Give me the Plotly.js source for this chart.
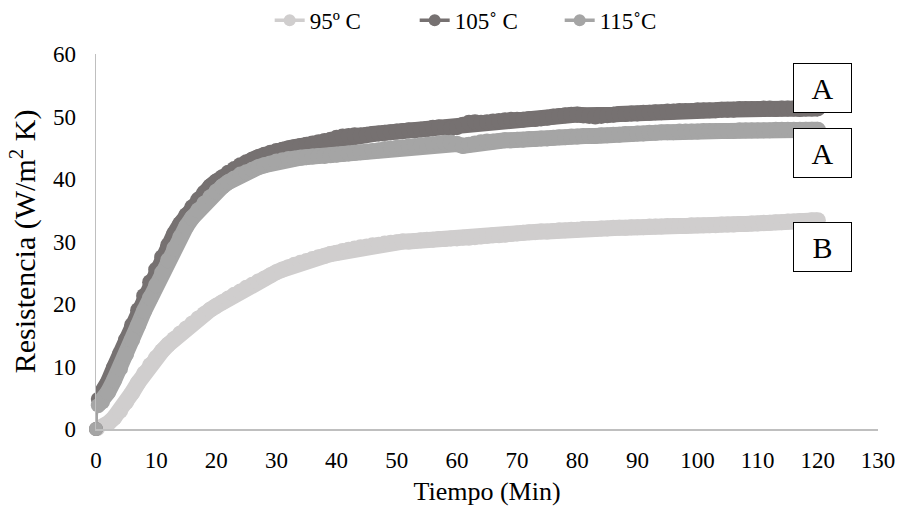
<!DOCTYPE html>
<html>
<head>
<meta charset="utf-8">
<script src="https://cdn.plot.ly/plotly-3.0.1.min.js"></script>
<style>html,body{margin:0;padding:0;background:#fff;}#chart{width:905px;height:509px;}</style>
</head>
<body>
<div id="chart"></div>
<script>
// Time (min)
var tiempo = [0, 0.3, 1, 2, 3, 4, 5, 6, 7, 8, 9, 10,
  11, 12, 13, 14, 15, 16, 17, 18, 19, 20,
  21, 22, 23, 24, 25, 26, 27, 28, 29, 30,
  31, 32, 33, 34, 35, 36, 37, 38, 39, 40,
  41, 42, 43, 44, 45, 46, 47, 48, 49, 50,
  51, 52, 53, 54, 55, 56, 57, 58, 59, 60,
  61, 62, 63, 64, 65, 66, 67, 68, 69, 70,
  71, 72, 73, 74, 75, 76, 77, 78, 79, 80,
  81, 82, 83, 84, 85, 86, 87, 88, 89, 90,
  91, 92, 93, 94, 95, 96, 97, 98, 99, 100,
  101, 102, 103, 104, 105, 106, 107, 108, 109, 110,
  111, 112, 113, 114, 115, 116, 117, 118, 119, 120];

// 95 ºC
var serie95 = [0, 0, 0.2, 0.9, 1.8, 2.9, 4.3, 5.8, 7.4, 8.9, 10.2, 11.4,
  12.5, 13.5, 14.4, 15.3, 16.1, 16.9, 17.7, 18.4, 19.1, 19.7,
  20.3, 20.9, 21.5, 22.0, 22.6, 23.1, 23.6, 24.1, 24.6, 25.1,
  25.5, 25.9, 26.3, 26.6, 26.9, 27.2, 27.5, 27.7, 28.0, 28.2,
  28.5, 28.7, 28.9, 29.1, 29.2, 29.4, 29.5, 29.7, 29.8, 29.9,
  30.0, 30.0, 30.1, 30.2, 30.3, 30.3, 30.4, 30.4, 30.5, 30.5,
  30.6, 30.6, 30.7, 30.8, 30.9, 31.0, 31.0, 31.1, 31.2, 31.3,
  31.4, 31.5, 31.5, 31.6, 31.6, 31.7, 31.8, 31.8, 31.9, 31.9,
  32.0, 32.0, 32.0, 32.1, 32.1, 32.2, 32.2, 32.2, 32.3, 32.3,
  32.3, 32.4, 32.4, 32.4, 32.5, 32.5, 32.5, 32.5, 32.6, 32.6,
  32.6, 32.6, 32.6, 32.7, 32.7, 32.7, 32.8, 32.8, 32.9, 32.9,
  33.0, 33.0, 33.1, 33.1, 33.2, 33.2, 33.3, 33.3, 33.4, 33.4];

// 105 ˚C
var serie105 = [0, 4.8, 5.6, 7.5, 9.8, 12.0, 14.3, 16.6, 19.0, 21.3, 23.5, 25.5,
  27.5, 29.4, 31.2, 32.8, 34.2, 35.5, 36.7, 37.8, 38.8, 39.6,
  40.3, 41.0, 41.6, 42.2, 42.7, 43.1, 43.5, 43.9, 44.2, 44.5,
  44.7, 44.9, 45.1, 45.3, 45.5, 45.7, 45.9, 46.1, 46.3, 46.6,
  46.8, 46.9, 47.0, 47.0, 47.1, 47.2, 47.3, 47.4, 47.5, 47.6,
  47.7, 47.8, 47.8, 47.9, 48.0, 48.2, 48.3, 48.2, 48.1, 48.3,
  48.7, 49.0, 49.1, 49.0, 49.1, 49.2, 49.3, 49.4, 49.5, 49.5,
  49.5, 49.6, 49.6, 49.7, 49.8, 50.0, 50.1, 50.2, 50.3, 50.3,
  50.2, 50.1, 50.0, 50.1, 50.2, 50.3, 50.4, 50.4, 50.5, 50.5,
  50.6, 50.6, 50.7, 50.7, 50.8, 50.8, 50.9, 50.9, 50.9, 51.0,
  51.0, 51.0, 51.0, 51.1, 51.1, 51.1, 51.2, 51.2, 51.2, 51.2,
  51.3, 51.3, 51.2, 51.3, 51.3, 51.3, 51.2, 51.3, 51.3, 51.3];

// 115 ˚C
var serie115 = [0, 3.8, 4.4, 5.9, 7.8, 9.7, 12.0, 14.3, 16.6, 18.9, 21.0, 23.0,
  25.0, 27.0, 28.9, 30.7, 32.4, 33.8, 35.0, 36.1, 37.1, 38.0,
  38.8, 39.5, 40.1, 40.7, 41.1, 41.5, 41.9, 42.2, 42.5, 42.8,
  43.0, 43.2, 43.3, 43.4, 43.5, 43.6, 43.7, 43.7, 43.8, 43.9,
  44.0, 44.1, 44.2, 44.3, 44.4, 44.5, 44.6, 44.8, 44.9, 45.0,
  45.1, 45.2, 45.3, 45.4, 45.5, 45.6, 45.7, 45.8, 45.8, 45.6,
  45.3, 45.5, 45.7, 45.9, 46.0, 46.0, 46.1, 46.2, 46.2, 46.3,
  46.3, 46.4, 46.4, 46.5, 46.5, 46.6, 46.7, 46.7, 46.8, 46.8,
  46.9, 46.9, 46.9, 47.0, 47.0, 47.1, 47.1, 47.2, 47.2, 47.3,
  47.3, 47.4, 47.4, 47.5, 47.5, 47.5, 47.6, 47.6, 47.6, 47.6,
  47.7, 47.7, 47.7, 47.7, 47.7, 47.7, 47.8, 47.8, 47.8, 47.8,
  47.8, 47.8, 47.9, 47.9, 47.9, 47.9, 47.9, 47.9, 47.9, 47.9];

var nombres = ['95º C', '105˚ C', '115˚C'];
var colores = ['#d0cece', '#767171', '#a5a5a5'];
var series = [serie95, serie105, serie115];

// Significance labels
var letras = ['A', 'A', 'B'];
var letrasX = [120.7, 120.7, 120.7];
var letrasY = [54.6, 44.2, 29.2];

var FONT = '"Liberation Serif", "Times New Roman", serif';
var traces = [];
for (var i = 0; i < series.length; i++) {
  // first reading (t = 0) joined with a thin line
  traces.push({
    x: tiempo.slice(0, 2), y: series[i].slice(0, 2), type: 'scatter', mode: 'lines+markers',
    line: {color: colores[i], width: 2},
    marker: {color: colores[i], size: 14},
    cliponaxis: false,
    showlegend: false, hoverinfo: 'skip'
  });
  traces.push({
    x: tiempo.slice(1), y: series[i].slice(1), type: 'scatter', mode: 'lines+markers',
    line: {color: colores[i], width: 16},
    marker: {color: colores[i], size: 16},
    showlegend: false, hoverinfo: 'skip'
  });
}
for (var j = 0; j < series.length; j++) {
  traces.push({
    x: [null], y: [null], type: 'scatter', mode: 'lines+markers',
    name: nombres[j],
    line: {color: colores[j], width: 3.5},
    marker: {color: colores[j], size: 12},
    showlegend: true
  });
}

var annotations = [];
for (var k = 0; k < letras.length; k++) {
  annotations.push({
    x: letrasX[k], y: letrasY[k], xref: 'x', yref: 'y',
    text: letras[k], showarrow: false,
    font: {family: FONT, size: 30, color: '#000'},
    bordercolor: '#000', borderwidth: 1, bgcolor: '#fff',
    width: 57, height: 48, borderpad: 0
  });
}

var layout = {
  width: 905, height: 509,
  margin: {l: 96, r: 27, t: 54, b: 80},
  paper_bgcolor: '#fff', plot_bgcolor: '#fff',
  font: {family: FONT, size: 23, color: '#000'},
  xaxis: {
    range: [0, 130], tickvals: [0,10,20,30,40,50,60,70,80,90,100,110,120,130],
    showgrid: false, zeroline: false, showline: true, linecolor: '#bfbfbf', linewidth: 1.5,
    ticks: '', ticklabelstandoff: 10,
    tickfont: {family: FONT, size: 23, color: '#000'},
    title: {text: 'Tiempo (Min)', font: {family: FONT, size: 26, color: '#000'}, standoff: 9}
  },
  yaxis: {
    range: [0, 60], tickvals: [0,10,20,30,40,50,60],
    showgrid: false, zeroline: false, showline: true, linecolor: '#bfbfbf', linewidth: 1.5,
    ticks: '', ticklabelstandoff: 14,
    tickfont: {family: FONT, size: 23, color: '#000'},
    title: {text: 'Resistencia (W/m<sup>2</sup> K)', font: {family: FONT, size: 30, color: '#000'}, standoff: 8}
  },
  legend: {
    orientation: 'h', x: 0.298, xanchor: 'left', xref: 'container',
    y: 0.96, yanchor: 'middle', yref: 'container',
    entrywidth: 100, entrywidthmode: 'pixels',
    font: {family: FONT, size: 23, color: '#000'}, bgcolor: 'rgba(0,0,0,0)'
  },
  annotations: annotations,
  showlegend: true
};

Plotly.newPlot('chart', traces, layout, {displayModeBar: false, staticPlot: true});
</script>
</body>
</html>
